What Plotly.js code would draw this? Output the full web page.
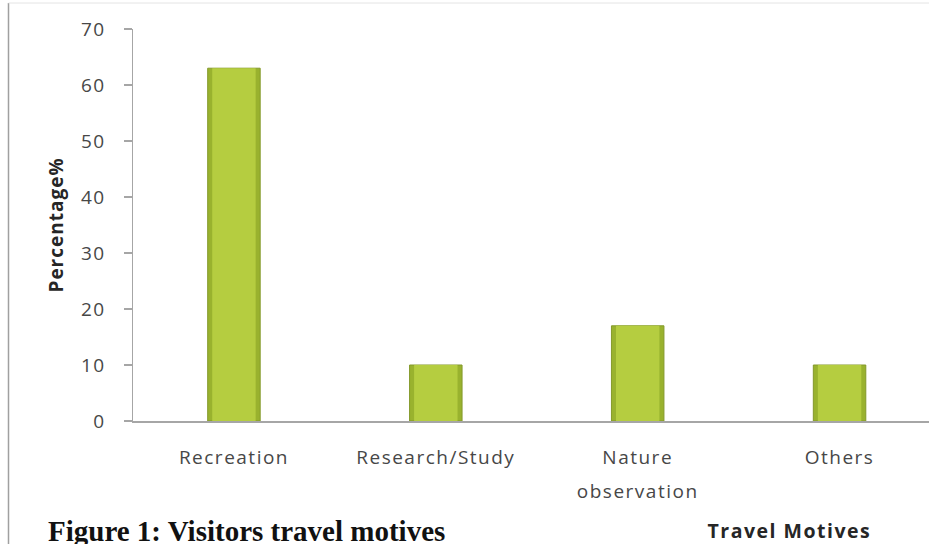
<!DOCTYPE html>
<html>
<head>
<meta charset="utf-8">
<script src="https://cdn.plot.ly/plotly-3.0.1.min.js"></script>
<style>
  html, body { margin: 0; padding: 0; background: #ffffff; }
  #chart { width: 929px; height: 544px; }
  /* spaced-out lettering of the axis texts */
  .xtick text, .ytick text { letter-spacing: 1.5px; }
  .g-ytitle text { letter-spacing: 1px; }
  .annotation[data-index="0"] text { letter-spacing: 1.5px; }
</style>
</head>
<body>
<div id="chart"></div>
<script>
// Travel motives of visitors (percent of respondents)
const motives = ["Recreation", "Research/Study", "Nature observation", "Others"];
const motiveLabels = ["Recreation", "Research/Study", "Nature<br>observation", "Others"];
const percentages = [63, 10, 17, 10];
const yTicks = [0, 10, 20, 30, 40, 50, 60, 70];

const axisGrey = "#a6a6a6";
const labelFont = { family: "Open Sans, sans-serif", size: 19, color: "#474747" };

// px -> paper helpers for the frame lines and captions
const W = 929, H = 544, L = 133, R = 0, T = 29, B = 123;
const px = x => (x - L) / (W - L - R);
const py = y => (H - B - y) / (H - T - B);

const traces = [
  { // olive body (gives the shaded side edges)
    type: "bar", x: motives, y: percentages, width: 0.26,
    marker: { color: "#99b22e", line: { color: "#84992a", width: 1 } },
    hoverinfo: "skip", showlegend: false
  },
  { // bright lime face
    type: "bar", x: motives, y: percentages, width: 0.215,
    marker: { color: "#b5cd40" },
    hoverinfo: "skip", showlegend: false
  }
];

const layout = {
  width: W, height: H,
  margin: { l: L, r: R, t: T, b: B, pad: 0 },
  paper_bgcolor: "#ffffff", plot_bgcolor: "#ffffff",
  barmode: "overlay",
  showlegend: false,
  xaxis: {
    type: "category",
    range: [-0.5, 3.443],
    tickvals: motives, ticktext: motiveLabels,
    showline: true, linecolor: axisGrey, linewidth: 1.5,
    ticks: "", showgrid: false, zeroline: false,
    tickfont: labelFont, ticklabelstandoff: 19,
    automargin: false
  },
  yaxis: {
    range: [0, 70],
    tickvals: yTicks,
    ticks: "outside", ticklen: 8, tickwidth: 1.5, tickcolor: axisGrey,
    showline: true, linecolor: axisGrey, linewidth: 1.5,
    showgrid: false, zeroline: false,
    tickfont: labelFont, ticklabelstandoff: 14,
    automargin: false,
    title: {
      text: "Percentage%",
      font: { family: "Open Sans, sans-serif", size: 19, weight: 700, color: "#262626" },
      standoff: 12
    }
  },
  shapes: [
    { type: "line", xref: "paper", yref: "paper",
      x0: px(8.5), x1: px(8.5), y0: py(H + 2), y1: py(3),
      line: { color: "#a0a0a0", width: 1.5 } },
    { type: "line", xref: "paper", yref: "paper",
      x0: px(8.5), x1: 1, y0: py(3), y1: py(3),
      line: { color: "#e4e4e4", width: 1 } }
  ],
  annotations: [
    { text: "Travel Motives", xref: "paper", yref: "paper",
      x: px(789), y: py(530), xanchor: "center", yanchor: "middle",
      showarrow: false,
      font: { family: "Open Sans, sans-serif", size: 19.5, weight: 700, color: "#262626" } },
    { text: "Figure 1: Visitors travel motives", xref: "paper", yref: "paper",
      x: px(46), y: py(531), xanchor: "left", yanchor: "middle",
      showarrow: false,
      font: { family: "Liberation Serif, Times New Roman, serif", size: 29, weight: 700, color: "#111111" } }
  ]
};

Plotly.newPlot("chart", traces, layout, { staticPlot: true, displayModeBar: false })
  .then(gd => {
    // wider line gap for two-line category labels
    gd.querySelectorAll(".xtick text tspan.line").forEach(t => {
      const dy = parseFloat(t.getAttribute("dy") || "0");
      if (dy > 0) t.setAttribute("dy", "1.75em");
    });
  });
</script>
</body>
</html>
